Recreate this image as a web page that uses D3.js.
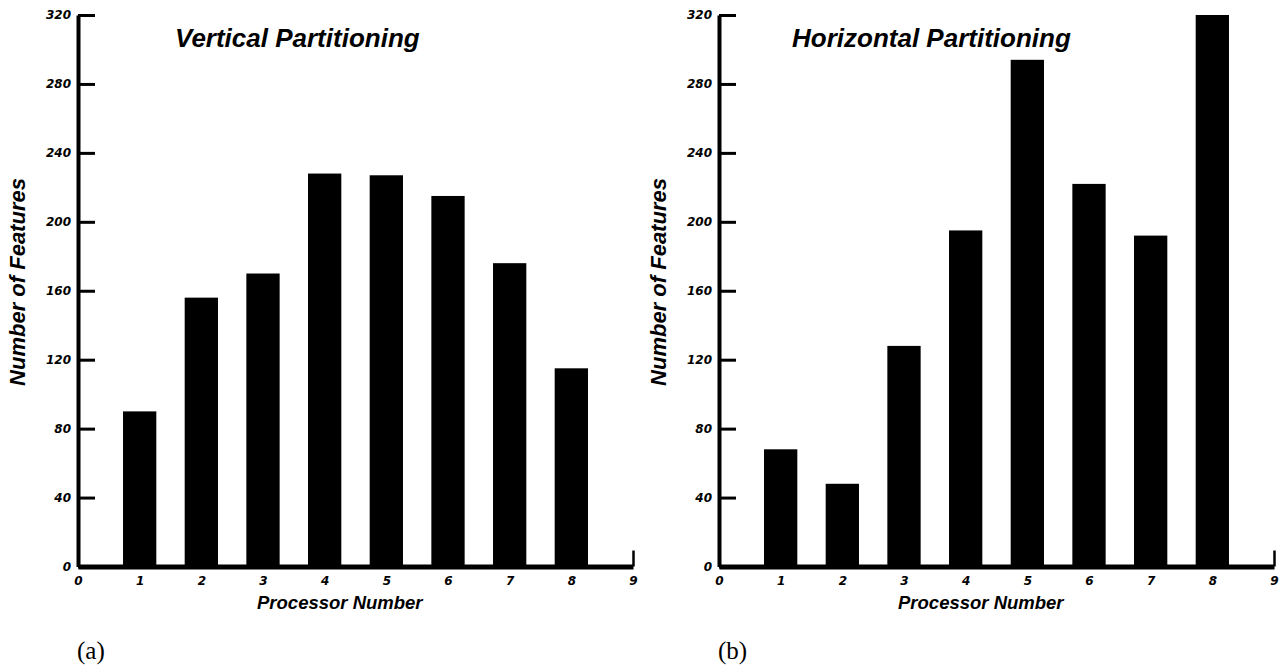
<!DOCTYPE html>
<html>
<head>
<meta charset="utf-8">
<script src="https://cdn.jsdelivr.net/npm/d3@7"></script>
<style>
  body { margin: 0; background: #fff; }
  .tick text { font-family: "DejaVu Sans", sans-serif; font-weight: bold; font-style: italic; }
</style>
</head>
<body>
<svg id="chart" width="1286" height="671"></svg>
<script>
// data
var processors = [1, 2, 3, 4, 5, 6, 7, 8];
var verticalCounts = [90, 156, 170, 228, 227, 215, 176, 115];
var horizontalCounts = [68, 48, 128, 195, 294, 222, 192, 320];
var yTicks = [0, 40, 80, 120, 160, 200, 240, 280, 320];
var xTicks = [0, 1, 2, 3, 4, 5, 6, 7, 8, 9];

var panels = [
    {title: "Vertical Partitioning", values: verticalCounts, tag: "(a)", dx: 0},
    {title: "Horizontal Partitioning", values: horizontalCounts, tag: "(b)", dx: 641}
];

var svg = d3.select("#chart");

// same scales for both panels, the panel group is shifted
var x = d3.scaleLinear().domain([0, 9]).range([78, 633]);
var y = d3.scaleLinear().domain([0, 320]).range([566.5, 15]);
var barW = 0.54;

var drawPanel = function(p) {
    var g = svg.append("g").attr("transform", "translate(" + p.dx + ",0)");

    // bars
    g.append("g")
        .selectAll("rect")
        .data(p.values)
        .enter()
        .append("rect")
        .attr("x", function(d, i) { return x(processors[i] - barW / 2); })
        .attr("width", function(d, i) { return x(processors[i] + barW / 2) - x(processors[i] - barW / 2); })
        .attr("y", function(d) { return y(d); })
        .attr("height", function(d) { return y(0) - y(d); })
        .attr("fill", "#000");

    // y axis, ticks pointing inward
    var yAxis = g.append("g")
        .attr("transform", "translate(" + x(0) + ",0)")
        .call(d3.axisLeft(y).tickValues(yTicks).tickSizeInner(-17).tickSizeOuter(0).tickPadding(7));
    yAxis.select(".domain").attr("stroke-width", 4).attr("stroke", "#000");
    yAxis.selectAll(".tick line").attr("stroke-width", 3).attr("stroke", "#000");
    yAxis.selectAll(".tick text").style("font-size", "12px").attr("fill", "#000");

    // x axis
    var xAxis = g.append("g")
        .attr("transform", "translate(0," + y(0) + ")")
        .call(d3.axisBottom(x).tickValues(xTicks).tickSizeInner(-16).tickSizeOuter(0).tickPadding(10));
    xAxis.select(".domain").attr("stroke-width", 5).attr("stroke", "#000");
    xAxis.selectAll(".tick line").attr("stroke-width", 2.5).attr("stroke", "#000");
    xAxis.selectAll(".tick text").style("font-size", "12px").attr("fill", "#000");

    // title
    g.append("text")
        .attr("x", p.dx === 0 ? 175 : 151)
        .attr("y", 47)
        .style("font-family", "'Liberation Sans', Arial, sans-serif")
        .style("font-weight", "bold")
        .style("font-style", "italic")
        .style("font-size", "26px")
        .text(p.title);

    // axis labels
    g.append("text")
        .attr("transform", "translate(25,282) rotate(-90)")
        .attr("text-anchor", "middle")
        .style("font-family", "'Liberation Sans', Arial, sans-serif")
        .style("font-weight", "bold")
        .style("font-style", "italic")
        .style("font-size", "22px")
        .text("Number of Features");

    g.append("text")
        .attr("x", 257)
        .attr("y", 609)
        .style("font-family", "'Liberation Sans', Arial, sans-serif")
        .style("font-weight", "bold")
        .style("font-style", "italic")
        .style("font-size", "18.5px")
        .text("Processor Number");

    // panel tag
    g.append("text")
        .attr("x", 77)
        .attr("y", 659)
        .style("font-family", "'Liberation Serif', 'Times New Roman', serif")
        .style("font-size", "25px")
        .text(p.tag);
};

panels.forEach(function(p) { drawPanel(p); });
</script>
</body>
</html>
